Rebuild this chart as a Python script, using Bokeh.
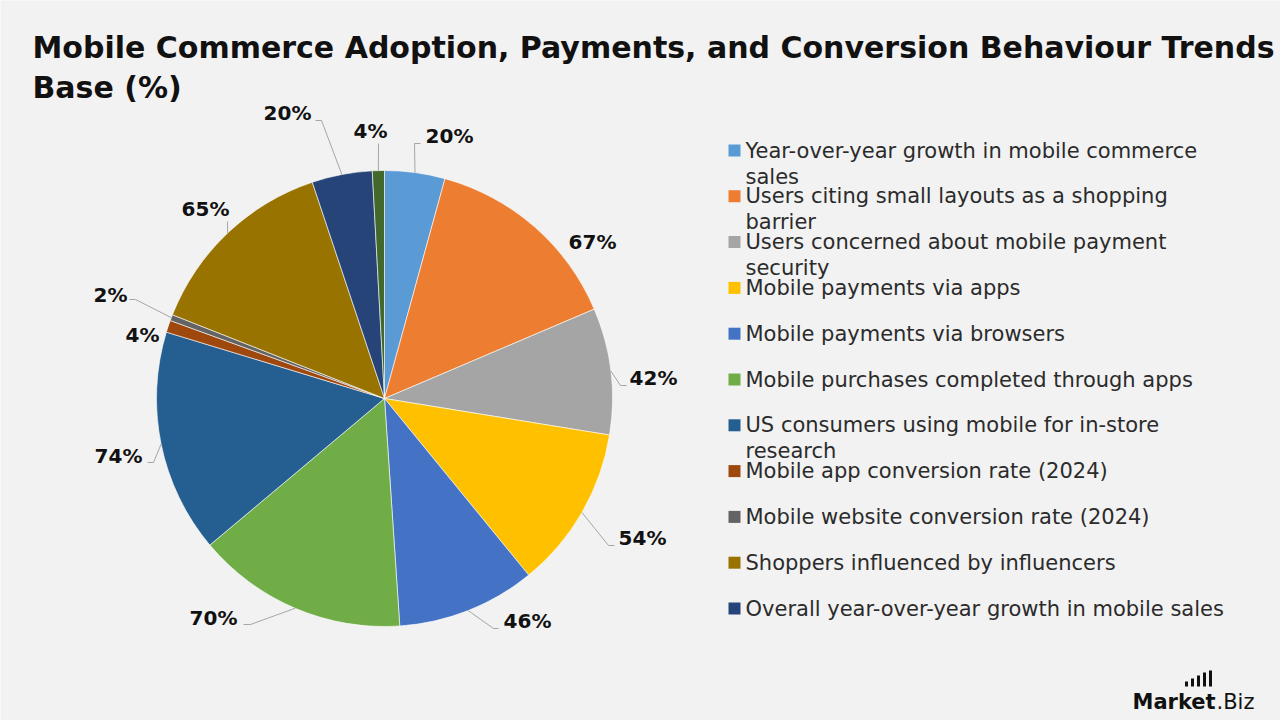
import math
from bokeh.plotting import figure
from bokeh.models import Range1d, ColumnDataSource
from bokeh.core.properties import value
from bokeh.embed import file_html
from bokeh.resources import INLINE

# ---------------- data ----------------
categories = [
    "Year-over-year growth in mobile commerce sales",
    "Users citing small layouts as a shopping barrier",
    "Users concerned about mobile payment security",
    "Mobile payments via apps",
    "Mobile payments via browsers",
    "Mobile purchases completed through apps",
    "US consumers using mobile for in-store research",
    "Mobile app conversion rate (2024)",
    "Mobile website conversion rate (2024)",
    "Shoppers influenced by influencers",
    "Overall year-over-year growth in mobile sales",
    "Other",
]
values = [20, 67, 42, 54, 46, 70, 74, 4, 2, 65, 20, 4]
colors = ["#5B9BD5", "#ED7D31", "#A5A5A5", "#FFC000", "#4472C4", "#70AD47",
          "#255E91", "#9E480E", "#636363", "#997300", "#264478", "#43682B"]
legend_labels = [
    "Year-over-year growth in mobile commerce\nsales",
    "Users citing small layouts as a shopping\nbarrier",
    "Users concerned about mobile payment\nsecurity",
    "Mobile payments via apps",
    "Mobile payments via browsers",
    "Mobile purchases completed through apps",
    "US consumers using mobile for in-store\nresearch",
    "Mobile app conversion rate (2024)",
    "Mobile website conversion rate (2024)",
    "Shoppers influenced by influencers",
    "Overall year-over-year growth in mobile sales",
]
title_lines = ["Mobile Commerce Adoption, Payments, and Conversion Behaviour Trends",
               "Base (%)"]

# ---------------- layout (pixel coords, y down) ----------------
W, H = 1280, 720
CX, CY_PX, R = 384, 398, 228
label_xy = [(449, 135), (592, 241), (653, 377), (642, 537), (527, 620), (213, 617),
            (118, 455), (142, 334), (110, 294), (205, 208), (287, 112), (370, 130)]
leader_via = [[(414, 143), (420, 143)], None, [(620, 385), (626, 385)],
              [(608, 545), (614, 545)], [(493, 628), (498, 628)],
              [(250, 624), (243, 624)], [(153, 462), (147, 462)], None,
              [(135, 299), (129, 299)], [(227, 221)], [(321, 120), (315, 120)],
              [(378, 143)]]

def fy(py):
    return H - py

CY = fy(CY_PX)

p = figure(width=W, height=H, x_range=Range1d(0, W), y_range=Range1d(0, H),
           output_backend="svg", toolbar_location=None, min_border=0,
           x_axis_type=None, y_axis_type=None,
           background_fill_color="#F2F2F2", border_fill_color="#F2F2F2",
           outline_line_color=None)
p.grid.visible = False

# ---------------- pie ----------------
total = float(sum(values))
starts, ends, mids = [], [], []
cum = 0.0
for v in values:
    a0 = cum / total * 2 * math.pi
    cum += v
    a1 = cum / total * 2 * math.pi
    starts.append(math.pi / 2 - a0)
    ends.append(math.pi / 2 - a1)
    mids.append((a0 + a1) / 2)

src = ColumnDataSource(dict(start=starts, end=ends, color=colors))
p.wedge(x=CX, y=CY, radius=R, start_angle="start", end_angle="end",
        direction="clock", fill_color="color", line_color="#FFFFFF",
        line_width=0.6, source=src)

# leader lines
xs, ys = [], []
for m, via in zip(mids, leader_via):
    if via is None:
        continue
    px = CX + R * math.sin(m)
    py = CY + R * math.cos(m)
    xs.append([px] + [v[0] for v in via])
    ys.append([py] + [fy(v[1]) for v in via])
p.multi_line(xs, ys, line_color="#A6A6A6", line_width=1)

# data labels
p.text(x=[q[0] for q in label_xy], y=[fy(q[1]) for q in label_xy],
       text=[f"{v}%" for v in values], text_font=value("DejaVu Sans"),
       text_font_style="bold", text_font_size="20px", text_align="center",
       text_baseline="middle", text_color="#111111")

# ---------------- legend ----------------
lx, ly0, lstep, lline = 734, 150, 45.8, 26
sq_x, sq_y, tx, ty, tt = [], [], [], [], []
for i, lab in enumerate(legend_labels):
    yc = ly0 + i * lstep
    sq_x.append(lx)
    sq_y.append(fy(yc))
    for j, line in enumerate(lab.split("\n")):
        tx.append(lx + 11)
        ty.append(fy(yc + j * lline))
        tt.append(line)
p.rect(x=sq_x, y=sq_y, width=12, height=12, fill_color=colors[:len(legend_labels)],
       line_color=None)
p.text(x=tx, y=ty, text=tt, text_font=value("DejaVu Sans"), text_font_size="21px",
       text_align="left", text_baseline="middle", text_color="#2B2B2B")

# ---------------- title ----------------
p.text(x=[32, 32], y=[fy(47), fy(87)], text=title_lines,
       text_font=value("DejaVu Sans"), text_font_style="bold",
       text_font_size="30px", text_align="left", text_baseline="alphabetic",
       text_color="#111111")

# ---------------- logo ----------------
p.text(x=[1132], y=[fy(701)], text=["Market"], text_font=value("DejaVu Sans"),
       text_font_style="bold", text_font_size="21px", text_align="left",
       text_baseline="alphabetic", text_color="#111111")
p.text(x=[1216], y=[fy(701)], text=[".Biz"], text_font=value("DejaVu Sans"),
       text_font_size="21px", text_align="left", text_baseline="alphabetic",
       text_color="#111111")
bar_x = [1186, 1192, 1198, 1204, 1210]
bar_top = [681, 678, 675, 672, 670]
p.quad(left=[b - 1.5 for b in bar_x], right=[b + 1.5 for b in bar_x],
       bottom=[fy(686)] * 5, top=[fy(t) for t in bar_top],
       fill_color="#111111", line_color=None)

open("out.html", "w").write(file_html(p, INLINE))
